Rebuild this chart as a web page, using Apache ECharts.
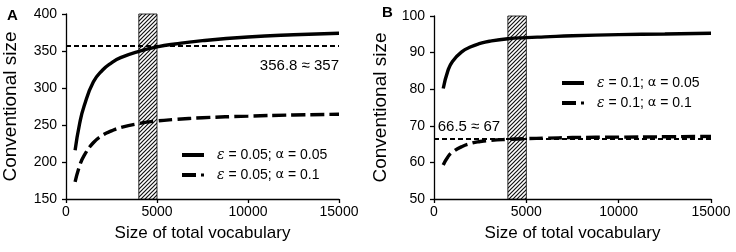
<!DOCTYPE html>
<html>
<head>
<meta charset="utf-8">
<script src="https://cdn.jsdelivr.net/npm/echarts@6/dist/echarts.min.js"></script>
<style>
html,body{margin:0;padding:0;background:#fff;}
#c{width:736px;height:252px;}
</style>
</head>
<body>
<div id="c"></div>
<script>
// ---- data ----
const vocab = [500, 750, 1000, 1500, 2000, 2500, 3000, 4000, 5000, 6000, 7500, 10000, 12500, 15000];
const aSolid = [216, 252, 276, 308, 324, 334, 341, 349.5, 355.5, 359.5, 364, 369, 372, 374];
const aDashed = [173, 195, 209, 226, 236, 242, 246.5, 252, 255.5, 257.5, 259.8, 262, 263.5, 264.5];
const bSolid = [80.2, 85, 87.6, 90.2, 91.6, 92.5, 93.1, 93.8, 94.1, 94.3, 94.6, 94.9, 95.1, 95.3];
const bDashed = [59.3, 61.5, 62.8, 64.3, 65.2, 65.7, 66.0, 66.3, 66.5, 66.6, 66.8, 66.9, 67.0, 67.1];
const refA = 356.8, refB = 66.5;
const refLabelA = '356.8 \u2248 357', refLabelB = '66.5 \u2248 67';
const band = [4000, 5000];
const namesA = ['\u03b5 = 0.05; \u03b1 = 0.05', '\u03b5 = 0.05; \u03b1 = 0.1'];
const namesB = ['\u03b5 = 0.1; \u03b1 = 0.05', '\u03b5 = 0.1; \u03b1 = 0.1'];
const xTicks = {min: 0, max: 15000, interval: 5000};
const yA = {min: 150, max: 400, interval: 50};
const yB = {min: 50, max: 100, interval: 10};

const FONT = "'Liberation Sans', Arial, sans-serif";

// hatch pattern
const pc = document.createElement('canvas');
pc.width = 4; pc.height = 4;
const g = pc.getContext('2d');
g.fillStyle = '#fff'; g.fillRect(0, 0, 4, 4);
g.strokeStyle = '#111'; g.lineWidth = 1.2;
g.beginPath();
g.moveTo(-1, 5); g.lineTo(5, -1);
g.moveTo(-1, 1); g.lineTo(1, -1);
g.moveTo(3, 5); g.lineTo(5, 3);
g.stroke();
const hatch = {image: pc, repeat: 'repeat'};

const zip = (xs, ys) => xs.map((x, i) => [x, ys[i]]);

function xAxisOf(gi) {
  return {
    type: 'value', gridIndex: gi, min: xTicks.min, max: xTicks.max, interval: xTicks.interval,
    name: 'Size of total vocabulary', nameLocation: 'middle', nameGap: 26,
    nameTextStyle: {fontFamily: FONT, fontSize: 17, color: '#000'},
    axisLine: {onZero: false, lineStyle: {color: '#000', width: 1.3}},
    axisTick: {length: 4, lineStyle: {color: '#000', width: 1.3}},
    axisLabel: {fontFamily: FONT, fontSize: 14, color: '#000', margin: 6,
                formatter: v => String(v)},
    splitLine: {show: false}
  };
}
function yAxisOf(gi, r, gap) {
  return {
    type: 'value', gridIndex: gi, min: r.min, max: r.max, interval: r.interval,
    name: 'Conventional size', nameLocation: 'middle', nameGap: gap, nameRotate: 90,
    nameTextStyle: {fontFamily: FONT, fontSize: 19, color: '#000'},
    axisLine: {show: true, onZero: false, lineStyle: {color: '#000', width: 1.3}},
    axisTick: {show: true, length: 4, lineStyle: {color: '#000', width: 1.3}},
    axisLabel: {fontFamily: FONT, fontSize: 14, color: '#000', margin: 9},
    splitLine: {show: false}
  };
}
const rich = {
  e: {fontFamily: "'DejaVu Serif', serif", fontStyle: 'italic', fontSize: 14, color: '#000'},
  a: {fontFamily: "'DejaVu Sans', sans-serif", fontSize: 13, color: '#000'}
};
function legendFmt(n) {
  return n.replace('\u03b5', '{e|\u03b5}').replace('\u03b1', '{a|\u03b1}');
}
const iconSolid = 'path://M0,0h22v4h-22z';
const iconDash = 'path://M0,0h14v4h-14z M19,0.5h3v3h-3z';
function legendOf(names, left, top) {
  return {
    data: [{name: names[0], icon: iconSolid}, {name: names[1], icon: iconDash}],
    orient: 'vertical', left: left, top: top, padding: 0, itemGap: 6,
    itemWidth: 22, itemHeight: 4, formatter: legendFmt,
    itemStyle: {color: '#000', borderWidth: 0}, lineStyle: {width: 0},
    textStyle: {fontFamily: FONT, fontSize: 14, color: '#000', rich: rich, padding: [0, 0, 0, 8]}
  };
}
function lineSeries(name, gi, data, dashed, extra) {
  return Object.assign({
    type: 'line', name: name, xAxisIndex: gi, yAxisIndex: gi,
    data: data, showSymbol: false, symbol: 'none', smooth: 0.5,
    lineStyle: {color: '#000', width: 3.4, type: dashed ? [14, 5] : 'solid', cap: 'butt'},
    itemStyle: {color: '#000'}, z: 3
  }, extra || {});
}
function refLine(val) {
  return {
    silent: true, symbol: 'none', label: {show: false},
    lineStyle: {color: '#000', width: 2, type: [5, 3]},
    data: [{yAxis: val}]
  };
}
function bandArea() {
  return {
    silent: true,
    itemStyle: {color: hatch, borderColor: '#000', borderWidth: 0.8},
    data: [[{xAxis: band[0]}, {xAxis: band[1]}]]
  };
}
function refLabel(text, coord, pos) {
  return {
    silent: true, symbol: 'circle', symbolSize: 0,
    label: {show: true, position: pos, distance: 0, formatter: text,
            fontFamily: FONT, fontSize: 15, color: '#000'},
    data: [{coord: coord}]
  };
}

const option = {
  animation: false,
  backgroundColor: '#fff',
  title: [
    {text: 'A', left: 2, top: 3, textStyle: {fontFamily: FONT, fontWeight: 'bold', fontSize: 15, color: '#000'}},
    {text: 'B', left: 377, top: 0, textStyle: {fontFamily: FONT, fontWeight: 'bold', fontSize: 15, color: '#000'}}
  ],
  grid: [
    {left: 62, right: 397, top: 14, bottom: 53},
    {left: 434, right: 25, top: 16, bottom: 53}
  ],
  legend: [legendOf(namesA, 182, 148), legendOf(namesB, 562, 76)],
  xAxis: [xAxisOf(0), xAxisOf(1)],
  yAxis: [yAxisOf(0, yA, 46), yAxisOf(1, yB, 44)],
  series: [
    lineSeries(namesA[0], 0, zip(vocab, aSolid), false, {
      markArea: bandArea(), markLine: refLine(refA),
      markPoint: refLabel(refLabelA, [15000, 330], 'left')
    }),
    lineSeries(namesA[1], 0, zip(vocab, aDashed), true),
    lineSeries(namesB[0], 1, zip(vocab, bSolid), false, {
      markArea: bandArea(), markLine: refLine(refB),
      markPoint: refLabel(refLabelB, [200, 69.7], 'right')
    }),
    lineSeries(namesB[1], 1, zip(vocab, bDashed), true)
  ]
};
const chart = echarts.init(document.getElementById('c'), null, {renderer: 'canvas'});
chart.setOption(option);
</script>
</body>
</html>
